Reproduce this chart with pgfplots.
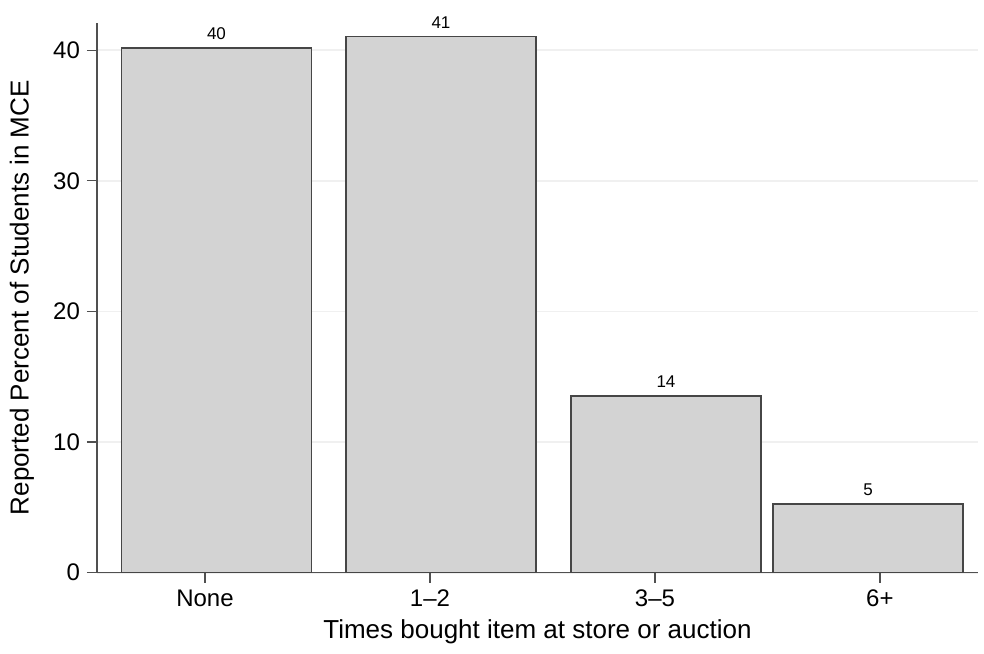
\documentclass[border=0pt]{standalone}
\usepackage{fontspec}
\setmainfont{Liberation Sans}
\usepackage{pgfplots}
\pgfplotsset{compat=1.18}
\definecolor{barfill}{RGB}{211,211,211}
\definecolor{barline}{RGB}{70,70,70}
\definecolor{axisgray}{RGB}{80,80,80}
\definecolor{gridgray}{RGB}{240,240,240}
\begin{document}
\begin{tikzpicture}
\begin{axis}[
  name=ax,
  scale only axis,
  width=440.5pt, height=275pt,
  xmin=0.52, xmax=4.436,
  ymin=0, ymax=42.1,
  axis lines*=left,
  axis line style={axisgray, line width=0.7pt},
  xtick={1,2,3,4},
  xticklabels={None,1–2,3–5,6+},
  ytick={0,10,20,30,40},
  tick align=outside,
  major tick length=5pt,
  tick style={axisgray, line width=0.6pt},
  ymajorgrids,
  major grid style={gridgray, line width=0.8pt},
  /pgf/number format/assume math mode=true,
  ticklabel style={font=\fontsize{12}{14}\selectfont},
  label style={font=\fontsize{13}{15}\selectfont},
  xlabel={Times bought item at store or auction},
  ylabel={Reported Percent of Students in MCE},
  ylabel style={at={(rel axis cs:0,0.5)}, anchor=center, yshift=37.5pt},
  xlabel style={at={(rel axis cs:0.5,0)}, anchor=center, yshift=-29.5pt},
  ybar,
  bar width=0.845,
  nodes near coords,
  nodes near coords style={font=\fontsize{8.5}{10}\selectfont, /pgf/number format/fixed, /pgf/number format/precision=0, yshift=0.5pt},
]
\addplot[fill=barfill, draw=barline, line width=0.75pt] coordinates {
  (1.051,40.15) (2.049,41.04) (3.049,13.53) (3.947,5.24)
};
\end{axis}
\path ([shift={(-48.5pt,-40.5pt)}]ax.south west) rectangle ([shift={(3pt,11.35pt)}]ax.north east);
\end{tikzpicture}
\end{document}
